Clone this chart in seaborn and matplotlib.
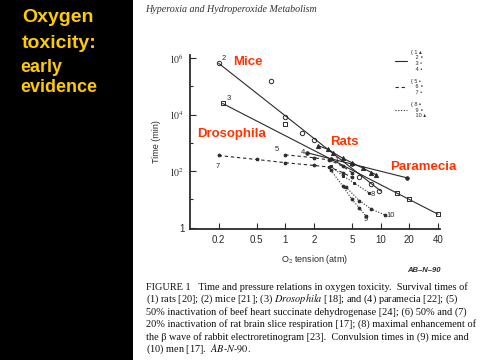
import numpy as np
import pandas as pd
import seaborn as sns
import matplotlib.pyplot as plt
from matplotlib.patches import Rectangle
from matplotlib.lines import Line2D
from matplotlib.ticker import NullFormatter, FixedLocator

# ------------------------------------------------------------
# values (O2 tension atm, time min)
# ------------------------------------------------------------
# solid lines: (1) rats, (2) mice, (3) Drosophila, (4) paramecia
mice_x = [0.2, 10.0]
mice_y = [6.6e5, 20]
mice_pts_x = [0.2, 0.7, 1.0, 1.5, 2.0, 6.0, 8.0, 9.7]
mice_pts_y = [6.6e5, 1.5e5, 8000, 2200, 1300, 60, 35, 20]

dros_x = [0.22, 40.0]
dros_y = [2.5e4, 3.0]
dros_pts_x = [0.22, 1.0, 15.0, 20.0, 40.0]
dros_pts_y = [2.5e4, 4700, 17, 10, 3]

rats_x = [2.2, 2.8, 3.2, 4.0, 5.0, 6.5, 8.0, 9.0]
rats_y = [800, 600, 450, 290, 200, 130, 90, 75]

para_x = [1.7, 3.0, 5.0, 19.0]
para_y = [450, 275, 180, 58]

# dashed lines: (5) succinate dehydrogenase, (6)/(7) brain slice respiration
enz_x = [1.0, 2.0, 2.9, 4.0, 5.0]
enz_y = [380, 300, 250, 150, 90]
brain_x = [0.2, 0.5, 1.0, 2.0, 2.9, 4.0, 5.0]
brain_y = [360, 260, 200, 160, 140, 90, 60]

# dotted lines: (8) ERG, (9) mice convulsion, (10) men convulsion
erg_x = [3.0, 4.0, 5.3, 7.6]
erg_y = [150, 70, 38, 17]
conv_mice_x = [3.0, 4.0, 5.0, 6.0, 7.0]
conv_mice_y = [110, 30, 10, 5, 2.6]
conv_men_x = [4.3, 6.0, 8.0, 11.0]
conv_men_y = [28, 9, 4.5, 2.9]

xticks = [0.2, 0.5, 1, 2, 5, 10, 20, 40]
xtick_labels = ["0.2", "0.5", "1", "2", "5", "10", "20", "40"]
yticks = [1, 1e2, 1e4, 1e6]
ytick_labels = ["1", "$10^2$", "$10^4$", "$10^6$"]
yminor = [10, 1e3, 1e5]

caption = [
    "FIGURE 1   Time and pressure relations in oxygen toxicity.  Survival times of",
    "(1) rats [20]; (2) mice [21]; (3) $\\it{Drosophila}$ [18]; and (4) paramecia [22]; (5)",
    "50% inactivation of beef heart succinate dehydrogenase [24]; (6) 50% and (7)",
    "20% inactivation of rat brain slice respiration [17]; (8) maximal enhancement of",
    "the \u03b2 wave of rabbit electroretinogram [23].  Convulsion times in (9) mice and",
    "(10) men [17].  $\\it{AB\\text{-}N\\text{-}90.}$",
]

# ------------------------------------------------------------
# figure
# ------------------------------------------------------------
sns.set_theme(style="ticks")
plt.rcParams['font.family'] = ['Liberation Sans', 'DejaVu Sans']
plt.rcParams['mathtext.fontset'] = 'stix'

fig = plt.figure(figsize=(4.8, 3.6), dpi=100, facecolor="white")
W, H = 480.0, 360.0

# black side panel with yellow title
fig.patches.append(Rectangle((0, 0), 133 / W, 1, transform=fig.transFigure,
                             facecolor="black", edgecolor="none", zorder=0))
gold = "#FFCC00"
fig.text(58 / W, 1 - 18 / H, "Oxygen", color=gold, fontsize=14, fontweight="bold",
         ha="center", va="center")
fig.text(59 / W, 1 - 44 / H, "toxicity:", color=gold, fontsize=14, fontweight="bold",
         ha="center", va="center")
fig.text(20 / W, 1 - 67 / H, "early", color=gold, fontsize=13, fontweight="bold",
         ha="left", va="center")
fig.text(20 / W, 1 - 88 / H, "evidence", color=gold, fontsize=13, fontweight="bold",
         ha="left", va="center")

# running head of the scanned page
fig.text(145 / W, 1 - 10 / H, "Hyperoxia and Hydroperoxide Metabolism", fontsize=7.2,
         family="Liberation Serif", style="italic", color="#333333", ha="left", va="center")

ax = fig.add_axes([190 / W, 1 - 229 / H, 250 / W, 174 / H])
ax.set_facecolor("white")
ink = "#2a2a2a"

def draw(x, y, ls, marker=None, mfc=ink, ms=3):
    sns.lineplot(x=x, y=y, ax=ax, color=ink, linewidth=0.8, linestyle=ls,
                 marker=marker, markersize=ms, markerfacecolor=mfc,
                 markeredgecolor=ink, markeredgewidth=0.7, estimator=None, sort=False)

draw(mice_x, mice_y, "-")
draw(dros_x, dros_y, "-")
draw(rats_x, rats_y, "-", marker="^", ms=3)
draw(para_x, para_y, "-", marker="o", ms=2.5)
draw(enz_x, enz_y, (0, (3, 2.5)), marker="o", ms=2)
draw(brain_x, brain_y, (0, (3, 2.5)), marker="o", ms=2)
draw(erg_x, erg_y, (0, (1, 1.5)), marker="s", ms=2)
draw(conv_mice_x, conv_mice_y, (0, (1, 1.5)), marker="o", ms=2)
draw(conv_men_x, conv_men_y, (0, (1, 1.5)), marker="o", ms=2)

sns.scatterplot(x=mice_pts_x, y=mice_pts_y, ax=ax, marker="o", s=10,
                facecolor="white", edgecolor=ink, linewidth=0.7)
sns.scatterplot(x=dros_pts_x, y=dros_pts_y, ax=ax, marker="s", s=9,
                facecolor="white", edgecolor=ink, linewidth=0.7)

# curve numbers from the original figure
num_kw = dict(fontsize=5.5, color=ink)
ax.text(0.215, 8.5e5, "2", **num_kw)
ax.text(0.24, 3.2e4, "3", **num_kw)
ax.text(3.3, 330, "1", va="top", **num_kw)
ax.text(1.45, 420, "4", **num_kw)
ax.text(0.78, 520, "5", **num_kw)
ax.text(0.185, 130, "7", **num_kw)
ax.text(7.9, 13, "8", **num_kw)
ax.text(6.6, 1.7, "9", **num_kw)
ax.text(11.5, 2.4, "10", **num_kw)

ax.set_xscale("log")
ax.set_yscale("log")
ax.set_xlim(0.1, 42)
ax.set_ylim(0.9, 1.3e6)
ax.xaxis.set_major_locator(FixedLocator(xticks))
ax.set_xticklabels(xtick_labels)
ax.xaxis.set_minor_locator(FixedLocator([]))
ax.xaxis.set_minor_formatter(NullFormatter())
ax.yaxis.set_major_locator(FixedLocator(yticks))
ax.set_yticklabels(ytick_labels)
ax.yaxis.set_minor_locator(FixedLocator(yminor))
ax.yaxis.set_minor_formatter(NullFormatter())
ax.tick_params(axis="both", which="both", direction="in", labelsize=7, colors=ink,
               width=0.8, pad=4)
ax.tick_params(axis="both", which="major", length=4)
ax.tick_params(axis="both", which="minor", length=2.5)
sns.despine(ax=ax)
for s in ["left", "bottom"]:
    ax.spines[s].set_linewidth(1.3)
    ax.spines[s].set_color(ink)

ax.set_xlabel("O$_2$ tension (atm)", fontsize=6.5, color=ink, labelpad=6)
ax.set_ylabel("Time (min)", fontsize=6.5, color=ink, labelpad=6)

# key for the three line styles
handles = [Line2D([], [], color=ink, lw=0.8, ls="-"),
           Line2D([], [], color=ink, lw=0.8, ls=(0, (3, 2.5))),
           Line2D([], [], color=ink, lw=0.8, ls=(0, (1, 1.5)))]
labels = ["{ 1 \u25b4\n   2 \u2218\n   3 \u25ab\n   4 \u2022",
          "{ 5 \u2022\n   6 \u2218\n   7 \u2022",
          "{ 8 \u25aa\n   9 \u2218\n   10 \u25b4"]
ax.legend(handles, labels, loc="upper left", bbox_to_anchor=(0.80, 1.06),
          frameon=False, fontsize=4, handlelength=2.2, labelspacing=1.2,
          handletextpad=0.6, labelcolor=ink)

# red overlay labels from the slide
red = "#FF3300"
lab_kw = dict(color=red, fontsize=9.5, fontweight="bold", ha="left", va="center")
fig.text(233 / W, 1 - 62 / H, "Mice", **lab_kw)
fig.text(197 / W, 1 - 134 / H, "Drosophila", **lab_kw)
fig.text(330 / W, 1 - 142 / H, "Rats", **lab_kw)
fig.text(390 / W, 1 - 167 / H, "Paramecia", **lab_kw)

fig.text(407 / W, 1 - 271 / H, "AB\u2013N\u201390", fontsize=5.5, style="italic",
         fontweight="bold", color=ink, ha="left", va="center")

# figure caption
for i, line in enumerate(caption):
    fig.text(146 / W, 1 - (287 + i * 12.4) / H, line, fontsize=7.4,
             family="Liberation Serif", color="#111111", ha="left", va="center")

plt.savefig("out.png", dpi=100, facecolor=fig.get_facecolor())
